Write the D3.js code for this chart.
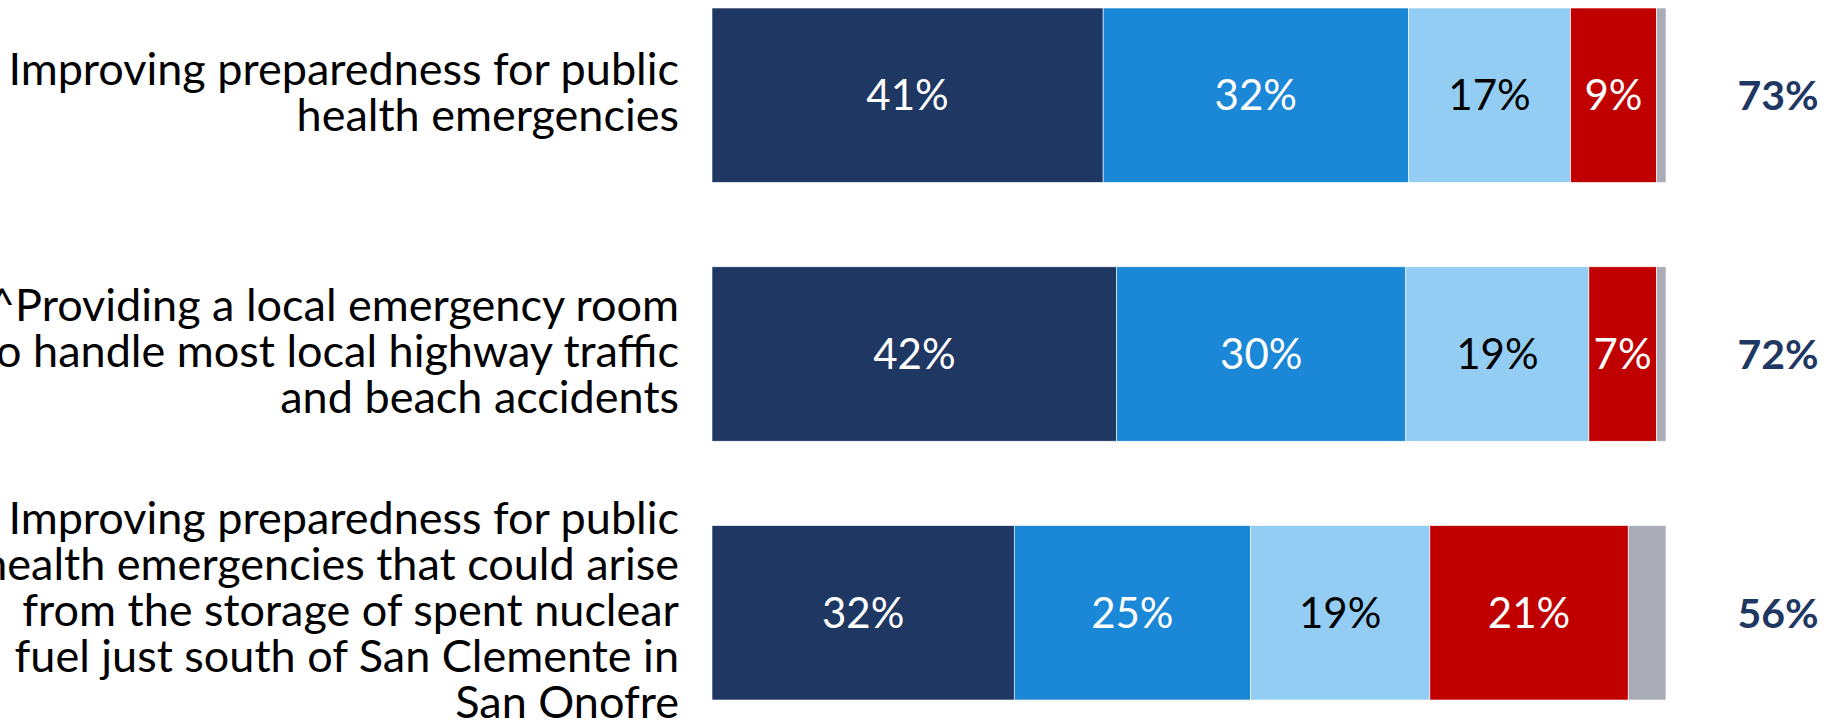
<!DOCTYPE html>
<html>
<head>
<meta charset="utf-8">
<script src="https://cdn.jsdelivr.net/npm/d3@7"></script>
<style>
  html, body { margin: 0; padding: 0; background: #fff; overflow: hidden; }
  svg { display: block; font-family: Lato, "Open Sans", sans-serif; }
</style>
</head>
<body>
<svg id="chart" width="1845" height="728"></svg>
<script>
// Chart data
const categories = [
  "Improving preparedness for public health emergencies",
  "^Providing a local emergency room to handle most local highway traffic and beach accidents",
  "Improving preparedness for public health emergencies that could arise from the storage of spent nuclear fuel just south of San Clemente in San Onofre"
];
// wrapped label lines, as in the original
const labelLines = [
  ["Improving preparedness for public", "health emergencies"],
  ["^Providing a local emergency room", "to handle most local highway traffic", "and beach accidents"],
  ["Improving preparedness for public", "health emergencies that could arise", "from the storage of spent nuclear", "fuel just south of San Clemente in", "San Onofre"]
];
const seriesKeys = ["strong", "somewhat", "notMuch", "none", "dk"];
const strongValues = [41, 42, 32];
const somewhatValues = [32, 30, 25];
const notMuchValues = [17, 19, 19];
const noneValues = [9, 7, 21];
const dkValues = [1, 1, 4];
const totalLabels = ["73%", "72%", "56%"];

const colors = {
  strong: "#1f3763",
  somewhat: "#1a87d7",
  notMuch: "#93cdf3",
  none: "#c00000",
  dk: "#aaacb8"
};
const labelColors = {
  strong: "#ffffff",
  somewhat: "#ffffff",
  notMuch: "#000000",
  none: "#ffffff",
  dk: null
};

const rows = categories.map((c, i) => ({
  category: c,
  strong: strongValues[i],
  somewhat: somewhatValues[i],
  notMuch: notMuchValues[i],
  none: noneValues[i],
  dk: dkValues[i]
}));

const svg = d3.select("#chart");

const x = d3.scaleLinear().domain([0, 1]).range([712, 1666]);
const y = d3.scaleBand()
  .domain(categories)
  .range([8, 700])
  .paddingInner(0.326)
  .paddingOuter(0);

const stacked = d3.stack()
  .keys(seriesKeys)
  .offset(d3.stackOffsetExpand)(rows);

const layers = svg.append("g")
  .selectAll("g")
  .data(stacked)
  .join("g")
  .attr("fill", (d) => colors[d.key]);

layers.selectAll("rect")
  .data((d) => d.map((v) => Object.assign(v, { key: d.key })))
  .join("rect")
  .attr("x", (d) => x(d[0]))
  .attr("y", (d) => y(d.data.category))
  .attr("width", (d) => x(d[1]) - x(d[0]))
  .attr("height", y.bandwidth())
  .attr("stroke", "#ffffff")
  .attr("stroke-width", 0.6);

// value labels inside segments
layers.filter((d) => labelColors[d.key])
  .selectAll("text")
  .data((d) => d)
  .join("text")
  .attr("x", (d) => (x(d[0]) + x(d[1])) / 2)
  .attr("y", (d) => y(d.data.category) + y.bandwidth() / 2)
  .attr("dy", "0.36em")
  .attr("text-anchor", "middle")
  .attr("font-size", 42)
  .attr("fill", (d) => labelColors[d.key])
  .text((d) => d.data[d.key] + "%");

// category labels
const lineHeight = 46;
svg.append("g")
  .selectAll("text")
  .data(categories)
  .join("text")
  .attr("text-anchor", "end")
  .attr("font-size", 45)
  .attr("fill", "#000")
  .each(function (c, i) {
    const lines = labelLines[i];
    const cy = y(c) + y.bandwidth() / 2 - 3;
    const start = cy - ((lines.length - 1) * lineHeight) / 2;
    d3.select(this)
      .selectAll("tspan")
      .data(lines)
      .join("tspan")
      .attr("x", 679)
      .attr("y", (d, j) => start + j * lineHeight)
      .attr("dy", "0.35em")
      .text((d) => d);
  });

// totals on the right
svg.append("g")
  .selectAll("text")
  .data(categories)
  .join("text")
  .attr("x", 1778)
  .attr("y", (c) => y(c) + y.bandwidth() / 2)
  .attr("dy", "0.36em")
  .attr("text-anchor", "middle")
  .attr("font-size", 41)
  .attr("font-weight", "bold")
  .attr("fill", "#1f3763")
  .text((c, i) => totalLabels[i]);
</script>
</body>
</html>
